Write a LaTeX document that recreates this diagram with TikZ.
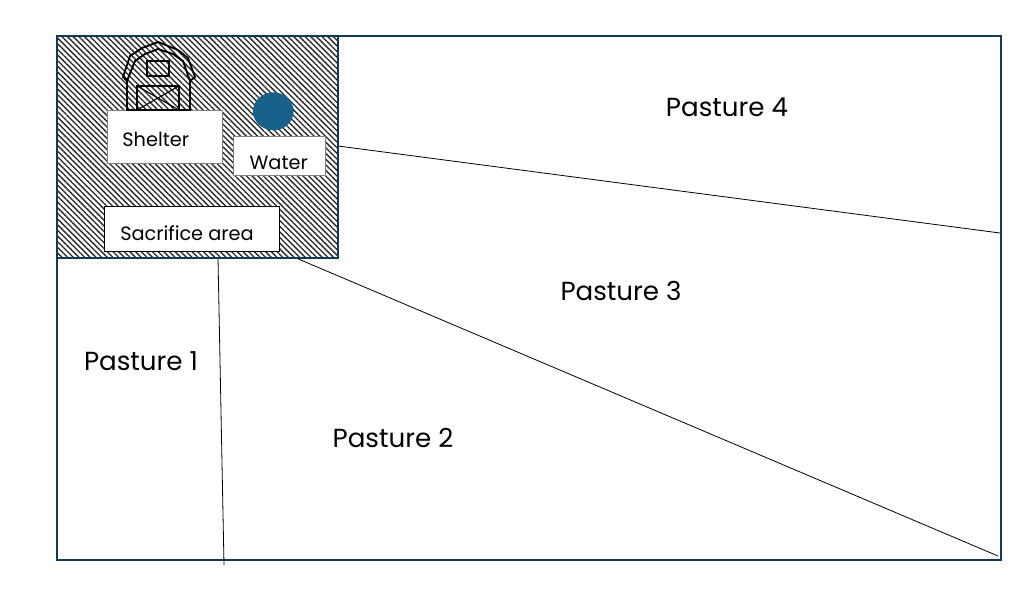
\documentclass[tikz,border=0pt]{standalone}
\usepackage{fontspec}
\setmainfont{Poppins}
\usetikzlibrary{patterns.meta,shapes.geometric}
\definecolor{myFrameColor}{HTML}{123A50}
\definecolor{myWaterColor}{HTML}{17618A}

\begin{document}
\begin{tikzpicture}[x=0.75pt,y=-0.75pt,
	Frame/.style={draw=myFrameColor,line width=2.1pt},
	Divider/.style={-,black,line width=0.6pt},
	Hatch/.style={pattern={Lines[angle=-45,distance=3pt,line width=1pt]},pattern color=black!85},
	AreaBox/.style={rectangle,fill=white,draw=#1,line width=0.6pt,inner sep=0pt,anchor=north west},
	AreaLabel/.style={font=\fontsize{14.5}{17}\selectfont,inner sep=0pt},
	PastureLabel/.style={font=\fontsize{19.6}{24}\selectfont,inner sep=0pt},
	Barn/.style={draw=black,line width=1.4pt,line join=miter},
]
	\useasboundingbox (0,0) rectangle (1024,597);
	%hatched yard
	\path[Hatch] (57,36) rectangle (338,258);

	\coordinate (P4a) at (338,146);
	\coordinate (P4b) at (1000,233);
	\coordinate (P3a) at (296,258);
	\coordinate (P3b) at (998,556);
	\coordinate (P1a) at (218,258);
	\coordinate (P1b) at (224,565);
	\path[Divider]
	(P4a) edge (P4b)
	(P3a) edge (P3b)
	(P1a) edge (P1b)
	;

	\draw[Frame] (57,36) rectangle (1001,560);
	\draw[Frame] (57,36) rectangle (338,258);

	\node[AreaBox=gray,minimum width=85.8pt,minimum height=39.7pt] (ShelterBox) at (107.3,109.7) {};
	\node[AreaBox=gray,minimum width=69pt,minimum height=29.5pt] (WaterBox) at (233.3,135.7) {};
	\node[AreaBox=black,minimum width=130.8pt,minimum height=33.7pt] (SacrificeBox) at (104.3,206.3) {};
	\node[AreaLabel] (Shelter) at (155.7,139) {Shelter};
	\node[AreaLabel] (Water) at (278.7,163) {Water};
	\node[AreaLabel] (Sacrifice) at (187,233) {Sacrifice area};

	\node[ellipse,fill=myWaterColor,minimum width=30.5pt,minimum height=28.5pt,inner sep=0pt] (Pond) at (273.3,111.3) {};

	%barn
	\draw[Barn] (127,110) -- (127,81) -- (135,61) -- (145,54) -- (158,49) -- (173,54) -- (183,61) -- (190,81) -- (190,110) -- cycle;
	\draw[Barn] (127,81) -- (123,77) -- (130,56) -- (142,48) -- (158,42) -- (178,50) -- (188,58) -- (195,77) -- (190,81);
	\draw[Barn] (147,61) rectangle (169,76);
	\draw[Barn] (137,86) rectangle (179,110);
	\draw[Barn,line width=0.8pt] (137,86) -- (179,110) (137,110) -- (179,86);

	\node[PastureLabel] (Pasture4) at (727,107) {Pasture 4};
	\node[PastureLabel] (Pasture3) at (621,291) {Pasture 3};
	\node[PastureLabel] (Pasture1) at (141,361) {Pasture 1};
	\node[PastureLabel] (Pasture2) at (393,438) {Pasture 2};
\end{tikzpicture}
\end{document}
